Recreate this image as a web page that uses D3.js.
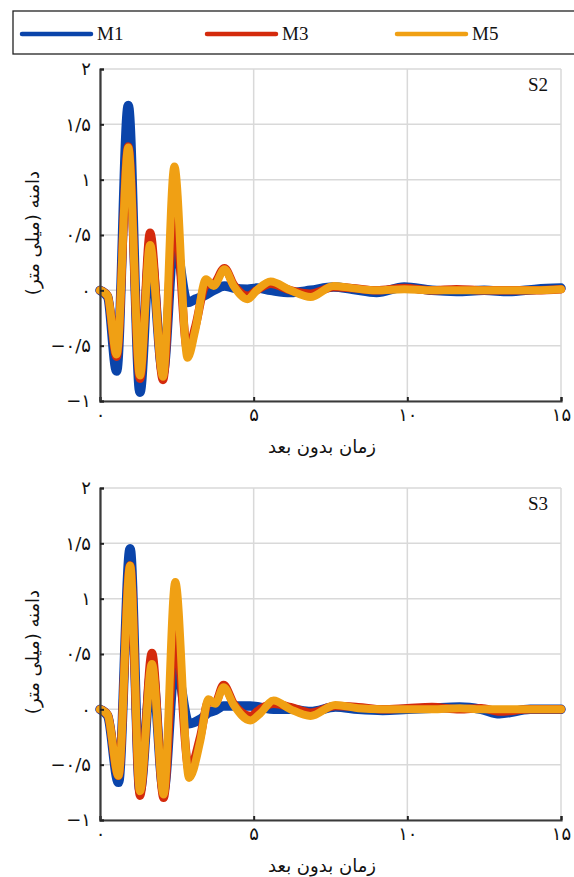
<!DOCTYPE html>
<html><head><meta charset="utf-8">
<script src="https://cdn.jsdelivr.net/npm/d3@7"></script>
<style>body{margin:0;background:#fff}svg{display:block}</style>
</head><body>
<svg id="c" width="574" height="877"></svg>
<script>
const seriesNames = ["M1","M3","M5"];
const seriesColors = ["#0a44aa","#d42a0c","#f0a014"];
const panelLabels = ["S2","S3"];
const xTickValues = [0,5,10,15];
const xTickLabels = ["۰","۵","۱۰","۱۵"];
const yTickValues = [-1,-0.5,0,0.5,1,1.5,2];
const yTickLabels = ["−۱","−۰/۵","۰","۰/۵","۱","۱/۵","۲"];
const xTitle = "زمان بدون بعد";
const yTitle = "دامنه (میلی متر)";

const timeS2 = [0,0.25,0.54,0.92,1.30,1.63,2.05,2.42,2.85,3.1,3.45,3.7,4.05,4.35,4.8,5.1,5.55,6.2,6.85,7.6,8.2,9.0,9.9,10.8,11.6,12.5,13.3,14.2,15];
const m1S2 = [0,-0.06,-0.73,1.67,-0.92,0.38,-0.75,0.46,-0.11,-0.08,-0.04,0.0,0.04,0.02,0.01,0.02,0.0,-0.02,0.0,0.03,0.01,-0.02,0.03,0.0,-0.01,0.0,-0.01,0.01,0.02];
const m3S2 = [0,-0.05,-0.6,1.3,-0.8,0.52,-0.81,0.75,-0.55,-0.33,0.05,0.06,0.2,0.05,-0.05,0.0,0.06,0.0,-0.03,0.03,0.02,0.0,0.02,0.0,0.01,0.0,0.0,0.0,0.01];
const m5S2 = [0,-0.05,-0.58,1.29,-0.77,0.41,-0.78,1.12,-0.61,-0.36,0.10,0.04,0.19,0.04,-0.08,0.0,0.08,0.0,-0.06,0.04,0.02,0.0,0.01,0.0,0.0,0.0,0.0,0.0,0.01];

const timeS3 = [0,0.25,0.6,0.98,1.30,1.69,2.07,2.45,2.9,3.26,3.53,3.75,4.02,4.35,4.89,5.2,5.65,6.2,6.85,7.66,8.4,9.2,10.0,10.8,11.7,12.4,13.0,14.0,15];
const m1S3 = [0,-0.06,-0.66,1.45,-0.74,0.38,-0.74,0.42,-0.13,-0.09,-0.03,-0.01,0.03,0.03,0.03,0.02,0.0,0.0,-0.02,0.02,0.0,-0.01,0.0,0.01,0.02,0.0,-0.04,0.0,0.0];
const m3S3 = [0,-0.05,-0.6,1.3,-0.78,0.51,-0.80,0.75,-0.55,-0.25,0.07,0.06,0.22,0.05,-0.06,0.0,0.05,0.02,-0.03,0.03,0.02,0.0,0.01,0.02,0.0,0.01,-0.02,0.0,0.0];
const m5S3 = [0,-0.05,-0.6,1.3,-0.74,0.41,-0.77,1.15,-0.62,-0.29,0.09,0.05,0.20,0.04,-0.10,-0.04,0.08,0.0,-0.06,0.04,0.01,0.0,0.0,0.0,0.01,0.0,0.0,0.0,0.0];

const panels = [
  {label: panelLabels[0], time: timeS2, series: [m1S2, m3S2, m5S2], top: 69, bottom: 401},
  {label: panelLabels[1], time: timeS3, series: [m1S3, m3S3, m5S3], top: 488, bottom: 820}
];

const svg = d3.select("#c");
const left = 100, right = 561;
const faFont = "DejaVu Sans, sans-serif";
const serif = "Liberation Serif, Times New Roman, serif";

// legend
const lg = svg.append("g");
lg.append("rect").attr("x",13).attr("y",11).attr("width",590).attr("height",43)
  .attr("fill","none").attr("stroke","#222").attr("stroke-width",1.3);
const legX = [22,207,397];
seriesNames.forEach((n,i)=>{
  lg.append("line").attr("x1",legX[i]).attr("x2",legX[i]+69).attr("y1",34).attr("y2",34)
    .attr("stroke",seriesColors[i]).attr("stroke-width",4.5).attr("stroke-linecap","round");
  lg.append("text").attr("x",legX[i]+75).attr("y",40).attr("font-family",serif)
    .attr("font-size",19).attr("fill","#111").text(n);
});

panels.forEach(p=>{
  const x = d3.scaleLinear().domain([0,15]).range([left,right]);
  const y = d3.scaleLinear().domain([-1,2]).range([p.bottom,p.top]);
  const g = svg.append("g");
  // grid
  g.append("g").selectAll("line").data(yTickValues).join("line")
    .attr("x1",left).attr("x2",right).attr("y1",d=>y(d)).attr("y2",d=>y(d))
    .attr("stroke","#d9d9d9").attr("stroke-width",1.5);
  g.append("g").selectAll("line").data(xTickValues).join("line")
    .attr("y1",p.top).attr("y2",p.bottom).attr("x1",d=>x(d)).attr("x2",d=>x(d))
    .attr("stroke","#d9d9d9").attr("stroke-width",1.5);

  // series
  const line = d3.line().x((d,i)=>x(p.time[i])).y(d=>y(d)).curve(d3.curveMonotoneX);
  const widths = [9.5,8.5,8];
  p.series.forEach((s,i)=>{
    g.append("path").attr("d",line(s)).attr("fill","none")
      .attr("stroke",seriesColors[i]).attr("stroke-width",widths[i])
      .attr("stroke-linejoin","round").attr("stroke-linecap","round");
  });

  // axes
  const xa = d3.axisBottom(x).tickValues(xTickValues).tickSize(-4).tickPadding(6)
    .tickFormat((d,i)=>xTickLabels[i]);
  const ya = d3.axisLeft(y).tickValues(yTickValues).tickSize(-4).tickPadding(9)
    .tickFormat((d,i)=>yTickLabels[i]);
  const gx = g.append("g").attr("transform",`translate(0,${p.bottom})`).call(xa);
  const gy = g.append("g").attr("transform",`translate(${left},0)`).call(ya);
  [gx,gy].forEach(a=>{
    a.select(".domain").attr("stroke","#3a3a3a").attr("stroke-width",2.2);
    a.selectAll(".tick line").attr("stroke","#222").attr("stroke-width",2);
    a.selectAll("text").attr("font-family",faFont).attr("font-size",18).attr("fill","#111");
  });
  gx.selectAll("text").attr("dy","0.75em");

  g.append("text").attr("x",548).attr("y",p.top+22).attr("text-anchor","end")
    .attr("font-family",serif).attr("font-size",19).attr("fill","#111").text(p.label);

  g.append("text").attr("x",322).attr("y",p.bottom+52).attr("text-anchor","middle")
    .attr("font-family",faFont).attr("font-size",18).attr("fill","#111").text(xTitle);
  g.append("text").attr("transform",`translate(39,${(p.top+p.bottom)/2-2}) rotate(-90)`)
    .attr("text-anchor","middle").attr("font-family",faFont).attr("font-size",18)
    .attr("fill","#111").text(yTitle);
});
</script>
</body></html>
